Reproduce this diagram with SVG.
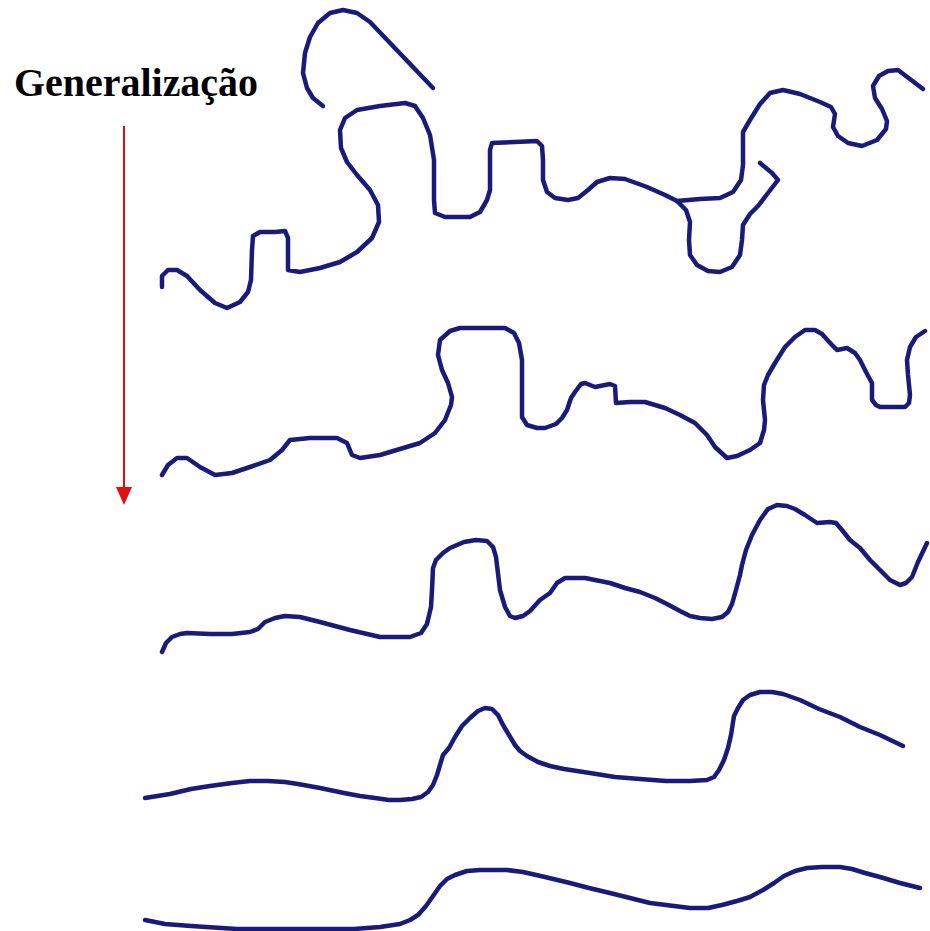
<svg xmlns="http://www.w3.org/2000/svg" width="930" height="931" viewBox="0 0 930 931">
<style>
.r{fill:none;stroke:#1a1a78;stroke-width:4.5;stroke-linejoin:round;stroke-linecap:round}
.t{font-family:"Liberation Serif","Times New Roman",serif;font-weight:bold;font-size:39px;fill:#000}
</style>
<rect width="930" height="931" fill="#fff"/>
<g id="title"><text class="t" x="14" y="96" textLength="244" lengthAdjust="spacingAndGlyphs">Generalização</text></g>
<g id="arrow">
<line x1="124" y1="126" x2="124" y2="490" stroke="#e01010" stroke-width="2"/>
<polygon points="116,487 132,487 124,505" fill="#e01010"/>
</g>
<g id="level1">
<path class="r" d="M323,106 L313,98 L307,88 L303,73 L305,53 L310,37 L318,23 L330,13 L343,10 L357,13 L370,22 L433,88"/>
<path class="r" d="M162,287 L162,276 L168,270 L177,270 L187,276 L200,290 L215,303 L227,308 L240,302 L248,292 L251,280 L252,250 L253,236 L260,232 L275,232 L285,231 L288,238 L288,270 L300,272 L320,268 L340,262 L357,252 L372,238 L379,222 L378,205 L370,190 L357,175 L347,162 L341,148 L340,130 L345,118 L357,110 L380,106 L405,103 L415,106 L423,118 L430,135 L434,160 L434,200 L435,213 L445,217 L470,217 L480,212 L487,200 L490,190 L490,150 L492,143 L515,142 L537,141 L542,146 L543,160 L543,180 L547,192 L555,198 L568,200 L578,198 L588,190 L597,182 L610,178 L625,179 L647,187 L665,195 L677,201 L686,210 L690,222 L689,240 L690,255 L697,265 L708,271 L720,272 L732,267 L740,255 L742,240 L743,225 L750,214 L758,206 L768,193 L778,180 L772,173 L760,163"/>
<path class="r" d="M677,201 L700,199 L720,198 L733,192 L741,180 L743,165 L743,132 L750,120 L760,104 L770,93 L783,90 L800,94 L820,102 L831,107 L835,114 L833,127 L838,136 L848,143 L862,146 L877,140 L886,129 L887,121 L882,109 L875,98 L873,86 L879,76 L888,71 L898,70 L923,89"/>
</g>
<g id="level2">
<path class="r" d="M162,475 L168,465 L177,458 L187,458 L200,467 L215,475 L232,473 L250,467 L270,460 L282,450 L290,440 L310,438 L337,438 L347,443 L352,455 L360,458 L380,455 L400,449 L420,443 L435,433 L445,420 L451,405 L452,397 L448,383 L442,370 L438,355 L440,340 L450,331 L460,328 L505,328 L514,333 L519,343 L522,360 L522,417 L527,425 L537,428 L545,428 L556,424 L562,418 L567,410 L571,398 L575,392 L581,384 L585,383 L595,387 L610,384 L615,386 L616,403 L630,402 L645,402 L665,408 L680,415 L695,423 L707,435 L715,447 L727,458 L737,456 L750,450 L760,443 L764,430 L765,420 L763,400 L764,385 L768,375 L775,363 L785,347 L795,337 L805,330 L815,330 L822,334 L832,345 L837,350 L847,348 L855,353 L860,360 L866,372 L872,383 L872,400 L876,405 L880,407 L905,407 L909,403 L910,395 L908,375 L907,360 L910,347 L916,337 L925,331"/>
</g>
<g id="level3">
<path class="r" d="M162,652 L166,643 L172,637 L180,634 L187,633 L210,634 L232,634 L250,632 L258,629 L265,622 L275,618 L285,616 L300,617 L320,622 L350,630 L380,637 L410,637 L421,633 L427,624 L431,607 L432,590 L433,568 L436,560 L443,553 L450,548 L464,542 L476,540 L487,541 L493,547 L496,557 L500,590 L505,607 L510,616 L515,618 L523,616 L530,611 L540,600 L550,593 L557,583 L565,578 L585,578 L610,583 L625,588 L640,592 L655,598 L667,604 L680,611 L690,616 L700,618 L712,619 L722,617 L728,612 L732,604 L736,590 L740,575 L742,565 L746,550 L752,535 L760,520 L768,509 L777,505 L787,506 L795,509 L805,515 L817,523 L830,522 L836,523 L842,530 L850,540 L860,548 L870,560 L880,570 L890,580 L900,585 L906,583 L912,577 L918,562 L927,543"/>
</g>
<g id="level4">
<path class="r" d="M145,798 L170,794 L191,789 L210,786 L232,783 L250,781 L268,781 L285,782 L298,784 L320,788 L344,793 L360,796 L375,798 L389,800 L400,800 L412,799 L421,797 L428,792 L433,785 L437,775 L440,765 L443,755 L449,748 L455,737 L462,726 L470,718 L478,711 L485,708 L492,709 L498,715 L503,725 L509,735 L515,745 L520,751 L527,756 L538,762 L550,766 L564,769 L590,773 L615,777 L640,779 L666,781 L690,781 L707,780 L714,777 L719,770 L724,760 L728,748 L731,735 L734,716 L738,708 L743,700 L750,695 L760,692 L772,692 L783,694 L800,700 L819,709 L840,717 L860,727 L880,735 L903,746"/>
</g>
<g id="level5">
<path class="r" d="M145,920 L165,924 L191,926 L237,929 L300,929 L354,929 L380,927 L400,924 L410,920 L418,915 L426,906 L433,896 L440,886 L447,879 L455,875 L467,871 L480,870 L492,870 L507,870 L523,872 L545,877 L570,883 L589,888 L610,893 L630,898 L650,903 L666,905 L690,908 L708,908 L722,905 L737,901 L750,897 L763,890 L774,883 L784,876 L795,871 L807,868 L822,867 L840,867 L852,869 L865,873 L880,877 L900,883 L920,888"/>
</g>
</svg>
